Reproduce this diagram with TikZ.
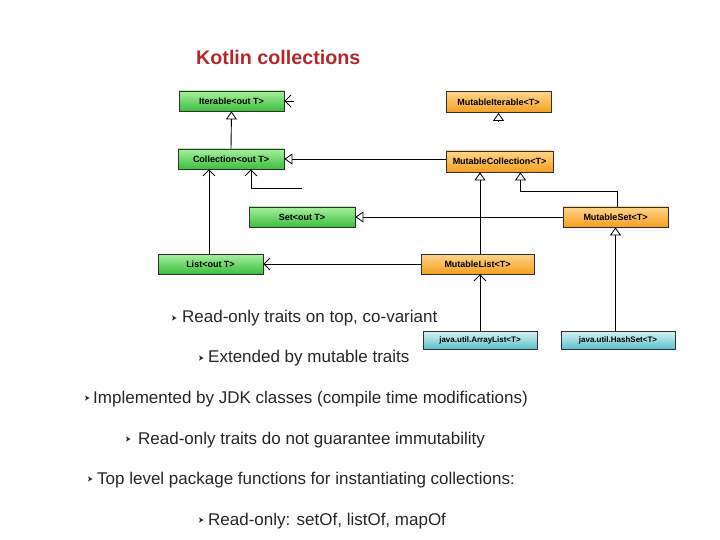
\documentclass[tikz,border=0pt]{standalone}
\usepackage{fontspec}
\setmainfont{Liberation Sans}
\usetikzlibrary{arrows.meta}
\definecolor{titlered}{HTML}{B3282A}
\definecolor{gtop}{HTML}{A8F0A0}
\definecolor{gbot}{HTML}{3CBE3C}
\definecolor{otop}{HTML}{FFD48A}
\definecolor{obot}{HTML}{F5A020}
\definecolor{ttop}{HTML}{D8F4F4}
\definecolor{tbot}{HTML}{5CC0CC}
\definecolor{bordc}{HTML}{303030}
\tikzset{
  cls/.style={rectangle, draw=bordc, line width=0.8pt, inner sep=0pt,
    font=\fontsize{9}{10}\selectfont\bfseries, text=black},
  gbox/.style={cls, top color=gtop, bottom color=gbot, minimum height=20pt},
  obox/.style={cls, top color=otop, bottom color=obot, minimum height=20pt},
  tbox/.style={cls, top color=ttop, bottom color=tbot, minimum height=18pt,
    font=\fontsize{8}{9}\selectfont\bfseries},
  conn/.style={line width=0.9pt, draw=black},
  tri/.style={conn, -{Triangle[open, length=8pt, width=11pt, line width=0.8pt]}},
  vee/.style={conn, -{Straight Barb[length=6pt, width=12pt, line width=0.8pt]}},
  btxt/.style={anchor=base west, inner sep=0pt, font=\fontsize{17}{19}\selectfont, text={black!85}},
  bul/.pic={\fill[black!85] (2.5,0) -- (-2,-2.6) -- (-0.9,0) -- (-2,2.6) -- cycle;}
}
\begin{document}
\begin{tikzpicture}[x=1pt, y=-1pt]
\useasboundingbox (0,0) rectangle (720,540);

% title
\node[anchor=base west, inner sep=0pt, text=titlered, font=\fontsize{19.7}{22}\selectfont\bfseries] (title) at (196,65) {Kotlin collections};

% class boxes
\node[gbox, minimum width=105pt] (iter) at (231.5,101) {Iterable<out T>};
\node[obox, minimum width=105pt, minimum height=21pt] (miter) at (498.5,102) {MutableIterable<T>};
\node[gbox, minimum width=106pt] (coll) at (231,159) {Collection<out T>};
\node[obox, minimum width=107pt, minimum height=21pt] (mcoll) at (499.5,161.5) {MutableCollection<T>};
\node[gbox, minimum width=106pt] (set) at (302,217) {Set<out T>};
\node[obox, minimum width=105pt] (mset) at (615.5,217) {MutableSet<T>};
\node[gbox, minimum width=105pt] (list) at (210.5,264) {List<out T>};
\node[obox, minimum width=113pt] (mlist) at (477.5,264) {MutableList<T>};
\node[tbox, minimum width=114pt] (alist) at (480,340) {java.util.ArrayList<T>};
\node[tbox, minimum width=114pt] (hset) at (618,340) {java.util.HashSet<T>};

% free ends
\coordinate (iv) at (294,101);
\coordinate (mv) at (498.5,122);
\coordinate (c2) at (302,188);

% connectors
\draw[tri] (coll.north) -- (iter.south);
\draw[vee] (iv) -- (iter.east);
\draw[tri] (mv) -- (miter.south);
\draw[tri] (mcoll.west |- coll.east) -- (coll.east);
\draw[vee] ([xshift=-1.5pt]list.north) -- ([xshift=-1.5pt]list.north |- coll.south);
\draw[vee] (c2) -| ([xshift=20pt]coll.south);
\draw[tri] (mlist.north -| alist) -- (mcoll.south -| alist);
\draw[tri] ([xshift=1.5pt]mset.north) |- ([xshift=21pt,yshift=-19pt]mcoll.south) -- ([xshift=21pt]mcoll.south);
\draw[tri] (mset.west) -- (set.east);
\draw[tri] (mset.south |- hset.north) -- (mset.south);
\draw[vee] (mlist.west) -- (list.east);
\draw[vee] (alist.north) -- (alist.north |- mlist.south);

% bullet text
\pic (b1) at (174,318) {bul};
\node[btxt] (t1) at (182,322) {Read-only traits on top, co-variant};
\pic (b2) at (201,358) {bul};
\node[btxt] (t2) at (208,362) {Extended by mutable traits};
\pic (b3) at (87,398) {bul};
\node[btxt] (t3) at (93,403) {Implemented by JDK classes (compile time modifications)};
\pic (b4) at (128,439) {bul};
\node[btxt] (t4) at (138,444) {Read-only traits do not guarantee immutability};
\pic (b5) at (90,479) {bul};
\node[btxt] (t5) at (97,484) {Top level package functions for instantiating collections:};
\pic (b6) at (201,520) {bul};
\node[btxt] (t6) at (208,525) {Read-only: setOf, listOf, mapOf};
\end{tikzpicture}
\end{document}
